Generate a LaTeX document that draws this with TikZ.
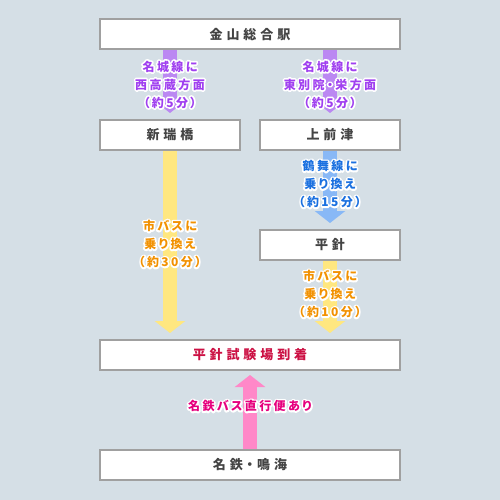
\documentclass[tikz,border=0pt]{standalone}
\usepackage{fontspec}
\usepackage{xcolor}
\usetikzlibrary{arrows.meta}
\newfontfamily\cajafont{Noto Sans CJK JP}[LetterSpace=30, RawFeature=+palt]
\newfontfamily\rotfont{Noto Sans CJK JP}[LetterSpace=20, RawFeature=+palt]
\definecolor{fondo}{HTML}{D5DFE6}
\definecolor{borde}{HTML}{A0A0A0}
\definecolor{gristxt}{HTML}{444444}
\definecolor{rojo}{HTML}{CC1144}
\definecolor{lila}{HTML}{BB88F2}
\definecolor{lilatxt}{HTML}{A040F0}
\definecolor{celeste}{HTML}{88B8F6}
\definecolor{azultxt}{HTML}{1A70E0}
\definecolor{amarillo}{HTML}{FFE780}
\definecolor{naranja}{HTML}{F29100}
\definecolor{rosa}{HTML}{FF88C8}
\definecolor{rosatxt}{HTML}{E6007E}
% texto con borde blanco (contorno trazado debajo)
\newcommand\glow[1]{\leavevmode\rlap{\special{pdf:code 1 Tr 3.4 w 1 j 1 J 1 1 1 RG}#1\special{pdf:code 0 Tr}}#1}

\begin{document}
\begin{tikzpicture}[x=1pt, y=-1pt,
  estacion/.style={draw=borde, line width=2pt, fill=white, minimum height=30pt, inner sep=0pt,
    font=\cajafont\bfseries\fontsize{13}{16}\selectfont, text=gristxt},
  flecha/.style={line width=14pt, -{Triangle[width=30pt,length=12pt]}, shorten >=6pt},
  rotulo/.style={align=center, inner sep=0pt, font=\rotfont\bfseries\fontsize{12}{18}\selectfont}]
  % Fondo
  \fill[fondo] (0,0) rectangle (500,500);

  % Estaciones
  \node[estacion, minimum width=300pt] (kanayama) at (250,34.5) {金山総合駅};
  \node[estacion, minimum width=140pt] (aratama) at (170,135) {新瑞橋};
  \node[estacion, minimum width=140pt] (kamimaezu) at (330,135) {上前津};
  \node[estacion, minimum width=140pt] (hirabari) at (330,245) {平針};
  \node[estacion, minimum width=300pt, text=rojo] (shiken) at (250,355) {平針試験場到着};
  \node[estacion, minimum width=300pt] (narumi) at (250,465) {名鉄・鳴海};

  % Flechas
  \draw[flecha, lila] (kanayama.south -| aratama) -- (aratama.north);
  \draw[flecha, lila] (kanayama.south -| kamimaezu) -- (kamimaezu.north);
  \draw[flecha, celeste] (kamimaezu.south) -- (hirabari.north);
  \draw[flecha, amarillo] (aratama.south) -- (shiken.north -| aratama);
  \draw[flecha, amarillo] (hirabari.south) -- (shiken.north -| hirabari);
  \draw[flecha, rosa, shorten >=4pt] (narumi.north) -- (shiken.south);

  % Rotulos
  \node[rotulo, text=lilatxt] (r1) at (170,84.5) {\glow{名城線に}\\\glow{西高蔵方面}\\\glow{（約5分）}};
  \node[rotulo, text=lilatxt] (r2) at (330,84.5) {\glow{名城線に}\\\glow{東別院・栄方面}\\\glow{（約5分）}};
  \node[rotulo, text=azultxt] (r3) at (330,184) {\glow{鶴舞線に}\\\glow{乗り換え}\\\glow{（約15分）}};
  \node[rotulo, text=naranja] (r4) at (170,244) {\glow{市バスに}\\\glow{乗り換え}\\\glow{（約30分）}};
  \node[rotulo, text=naranja] (r5) at (330,294) {\glow{市バスに}\\\glow{乗り換え}\\\glow{（約10分）}};
  \node[rotulo, text=rosatxt] (r6) at (250,406) {\glow{名鉄バス直行便あり}};
\end{tikzpicture}
\end{document}
